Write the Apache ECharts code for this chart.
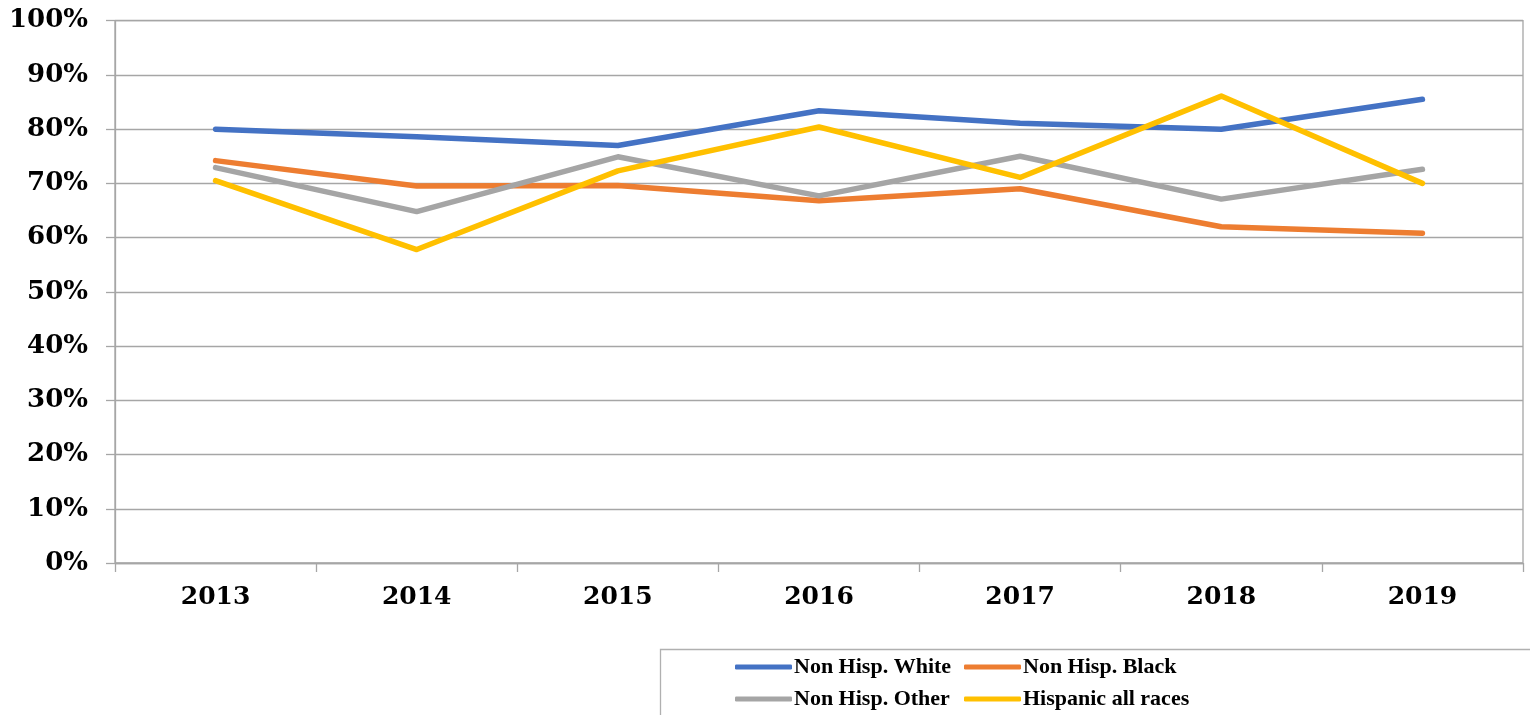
<!DOCTYPE html>
<html><head><meta charset="utf-8">
<script src="https://cdn.jsdelivr.net/npm/echarts@6/dist/echarts.min.js"></script>
<style>html,body{margin:0;padding:0;background:#fff}#c{width:1530px;height:715px}</style>
</head><body><div id="c"></div>
<script>
var years = ['2013','2014','2015','2016','2017','2018','2019'];
var white = [80.0, 78.6, 77.0, 83.4, 81.1, 80.0, 85.5];
var black = [74.2, 69.5, 69.6, 66.8, 69.0, 62.0, 60.8];
var other = [72.9, 64.8, 74.9, 67.7, 75.0, 67.1, 72.6];
var hispanic = [70.5, 57.8, 72.3, 80.4, 71.1, 86.1, 70.0];
var names = ['Non Hisp. White','Non Hisp. Black','Non Hisp. Other','Hispanic all races'];
var colors = ['#4472C4','#ED7D31','#A5A5A5','#FFC000'];
var seriesData = [white, black, other, hispanic];

var chart = echarts.init(document.getElementById('c'));
var font = 'DejaVu Serif';
var legendPos = [[735,656],[964,656],[735,688],[964,688]];
var legends = names.map(function(n,i){
  return {data:[n], left:legendPos[i][0], top:legendPos[i][1], padding:0,
    icon:'roundRect', itemWidth:57, itemHeight:5, itemGap:0,
    textStyle:{fontFamily:'Liberation Serif', fontWeight:'bold', fontSize:22, color:'#000', padding:[0,0,0,-3]}};
});
chart.setOption({
  animation:false,
  color: colors,
  grid:{left:115, right:7, top:20.7, bottom:152, show:true, borderColor:'#a6a6a6', borderWidth:1.3},
  graphic:[{type:'rect', shape:{x:660.5,y:649.5,width:880,height:80}, style:{fill:'none', stroke:'#b0b0b0', lineWidth:1.3}, z:-1}],
  legend: legends,
  xAxis:{type:'category', data:years, boundaryGap:true,
    axisLine:{lineStyle:{color:'#a6a6a6', width:1.3}},
    axisTick:{show:true, length:9, lineStyle:{color:'#a6a6a6', width:1.3}},
    axisLabel:{color:'#000', fontFamily:font, fontWeight:'bold', fontSize:25, margin:22}},
  yAxis:{type:'value', min:0, max:100, interval:10,
    axisLine:{show:true, lineStyle:{color:'#a6a6a6', width:1.3}},
    axisTick:{show:true, length:9, lineStyle:{color:'#a6a6a6', width:1.3}},
    splitLine:{lineStyle:{color:'#a6a6a6', width:1.3}},
    axisLabel:{formatter:'{value}%', color:'#000', fontFamily:font, fontWeight:'bold', fontSize:26, margin:27}},
  series: names.map(function(n,i){
    return {name:n, type:'line', data:seriesData[i], symbol:'none', showSymbol:false,
      lineStyle:{width:5.5, color:colors[i], cap:'round', join:'round'}, itemStyle:{color:colors[i]}};
  })
});
</script></body></html>
